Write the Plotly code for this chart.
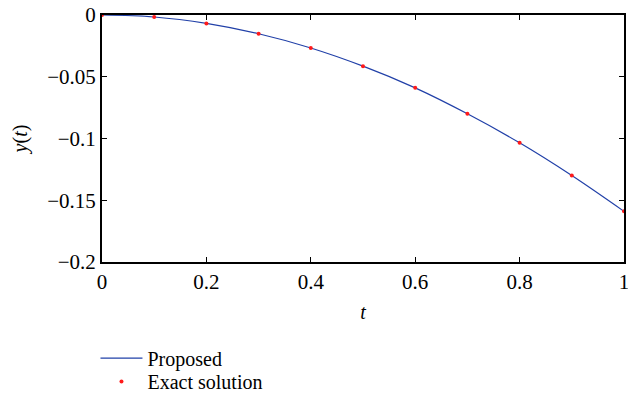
import plotly.graph_objects as go

t_vals = [0, 0.1, 0.2, 0.3, 0.4, 0.5, 0.6, 0.7, 0.8, 0.9, 1.0]
proposed = [0, -0.0016, -0.0068, -0.0152, -0.0267, -0.0414, -0.0590, -0.0800, -0.1035, -0.1300, -0.1590]
exact = [0, -0.0016, -0.0068, -0.0152, -0.0267, -0.0414, -0.0590, -0.0800, -0.1035, -0.1300, -0.1590]

FONT = "Liberation Serif, Times New Roman, serif"

fig = go.Figure()
fig.add_trace(go.Scatter(x=t_vals, y=proposed, mode="lines", name="Proposed",
                         line=dict(color="#2140a8", width=1.2, shape="spline"),
                         cliponaxis=False, legend="legend"))
fig.add_trace(go.Scatter(x=t_vals, y=exact, mode="markers", name="Exact solution",
                         marker=dict(color="#ff1a1a", size=4),
                         cliponaxis=False, legend="legend2"))

axis_common = dict(showline=True, linecolor="black", linewidth=2, mirror="ticks",
                   ticks="inside", ticklen=5, tickwidth=1, tickcolor="black",
                   showgrid=False, zeroline=False, automargin=False,
                   tickfont=dict(family=FONT, size=21, color="black"))

fig.update_xaxes(range=[0, 1], dtick=0.2, tick0=0, ticklabeloverflow="allow",
                 title=dict(text="<i>t</i>", font=dict(family=FONT, size=20, color="black"), standoff=12),
                 **axis_common)
fig.update_yaxes(range=[-0.2, 0], dtick=0.05, tick0=0, ticklabeloverflow="allow",
                 title=dict(text="<i>y</i>(<i>t</i>)", font=dict(family=FONT, size=20, color="black"), standoff=14),
                 **axis_common)

leg_common = dict(xanchor="left", yanchor="top",
                  font=dict(family=FONT, size=20, color="black"),
                  bgcolor="rgba(0,0,0,0)", itemwidth=42)

fig.update_layout(
    width=628, height=398,
    margin=dict(l=102, r=4, t=15, b=136, autoexpand=False),
    plot_bgcolor="white", paper_bgcolor="white",
    font=dict(family=FONT, size=20, color="black"),
    legend=dict(x=-0.0125, y=-0.31, **leg_common),
    legend2=dict(x=-0.0125, y=-0.405, **leg_common),
    showlegend=True,
)

fig.write_html("out.html", config={"displayModeBar": False},
               post_script="document.body.style.margin='0';document.body.style.overflow='hidden';")
